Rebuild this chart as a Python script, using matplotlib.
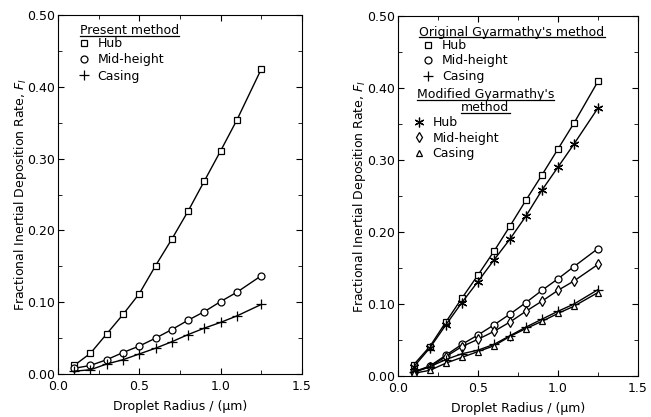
import numpy as np
import matplotlib
matplotlib.use('Agg')
import matplotlib.pyplot as plt
from matplotlib.lines import Line2D
from matplotlib.ticker import MultipleLocator

# droplet radius (um)
radius = [0.1, 0.2, 0.3, 0.4, 0.5, 0.6, 0.7, 0.8, 0.9, 1.0, 1.1, 1.25]

# present method
present_hub = [0.012, 0.029, 0.056, 0.083, 0.112, 0.151, 0.188, 0.227, 0.269, 0.311, 0.354, 0.425]
present_mid = [0.008, 0.012, 0.020, 0.030, 0.039, 0.050, 0.062, 0.075, 0.087, 0.101, 0.114, 0.137]
present_cas = [0.004, 0.006, 0.014, 0.020, 0.028, 0.036, 0.045, 0.055, 0.064, 0.072, 0.081, 0.097]

# original Gyarmathy's method
orig_hub = [0.016, 0.041, 0.075, 0.108, 0.140, 0.173, 0.208, 0.244, 0.279, 0.315, 0.351, 0.409]
orig_mid = [0.006, 0.014, 0.029, 0.044, 0.057, 0.071, 0.086, 0.102, 0.119, 0.135, 0.152, 0.177]
orig_cas = [0.006, 0.013, 0.023, 0.031, 0.036, 0.044, 0.056, 0.068, 0.079, 0.090, 0.100, 0.120]

# modified Gyarmathy's method
mod_hub = [0.013, 0.039, 0.071, 0.102, 0.131, 0.161, 0.190, 0.222, 0.258, 0.290, 0.322, 0.372]
mod_mid = [0.005, 0.013, 0.027, 0.041, 0.051, 0.062, 0.075, 0.090, 0.104, 0.119, 0.132, 0.155]
mod_cas = [0.004, 0.008, 0.018, 0.026, 0.034, 0.042, 0.055, 0.066, 0.076, 0.087, 0.097, 0.116]

x_ticks = [0.0, 0.5, 1.0, 1.5]
x_tick_labels = ['0.0', '0.5', '1.0', '1.5']
y_ticks = [0.0, 0.1, 0.2, 0.3, 0.4, 0.5]
y_tick_labels = ['0.00', '0.10', '0.20', '0.30', '0.40', '0.50']

FS = 9
plt.rcParams['font.family'] = ['DejaVu Sans']

fig = plt.figure(figsize=(6.51, 4.17), dpi=100)
ax1 = fig.add_axes([0.089, 0.103, 0.375, 0.861])
ax2 = fig.add_axes([0.611, 0.098, 0.369, 0.864])

def style(ax):
    ax.set_xticks(x_ticks)
    ax.set_xticklabels(x_tick_labels)
    ax.set_yticks(y_ticks)
    ax.set_yticklabels(y_tick_labels)
    ax.xaxis.set_minor_locator(MultipleLocator(0.25))
    ax.yaxis.set_minor_locator(MultipleLocator(0.05))
    ax.set_xlim(0, 1.5)
    ax.set_ylim(0, 0.5)
    ax.tick_params(which='both', direction='in', top=True, right=True, labelsize=FS)
    ax.tick_params(which='major', length=4)
    ax.tick_params(which='minor', length=3)
    ax.tick_params(axis='x', which='major', pad=4)
    ax.tick_params(axis='y', which='major', pad=2)
    ax.set_xlabel('Droplet Radius / (μm)', fontsize=FS, labelpad=5)
    ax.set_ylabel('Fractional Inertial Deposition Rate, $F_I$', fontsize=FS, labelpad=-1)

def series(ax, y, marker, ms=5):
    ax.plot(radius, y, color='k', lw=1, marker=marker, ms=ms,
            mfc='white', mec='k', mew=0.9)

def handle(marker, ms=5):
    return Line2D([], [], ls='none', marker=marker, ms=ms, mfc='white', mec='k', mew=0.9, color='k')

for ax in (ax1, ax2):
    style(ax)

series(ax1, present_hub, 's')
series(ax1, present_mid, 'o')
series(ax1, present_cas, '+', 7)

series(ax2, orig_hub, 's')
series(ax2, mod_hub, (6, 2, 0), 7)
series(ax2, orig_mid, 'o')
series(ax2, mod_mid, 'd')
series(ax2, orig_cas, '+', 7)
series(ax2, mod_cas, '^')

headers = []
headers.append((ax1, ax1.text(0.09, 0.958, 'Present method', transform=ax1.transAxes,
                              fontsize=FS, va='center', ha='left')))
leg1 = ax1.legend([handle('s'), handle('o'), handle('+', 7)], ['Hub', 'Mid-height', 'Casing'],
                  loc='upper left', bbox_to_anchor=(0.07, 0.945), frameon=False, fontsize=FS,
                  handlelength=1.0, handletextpad=0.6, labelspacing=0.25, borderaxespad=0,
                  borderpad=0.2)

headers.append((ax2, ax2.text(0.09, 0.955, "Original Gyarmathy's method", transform=ax2.transAxes,
                              fontsize=FS, va='center', ha='left')))
leg2 = ax2.legend([handle('s'), handle('o'), handle('+', 7)], ['Hub', 'Mid-height', 'Casing'],
                  loc='upper left', bbox_to_anchor=(0.09, 0.943), frameon=False, fontsize=FS,
                  handlelength=1.0, handletextpad=0.6, labelspacing=0.2, borderaxespad=0,
                  borderpad=0.2)
ax2.add_artist(leg2)
headers.append((ax2, ax2.text(0.08, 0.782, "Modified Gyarmathy's", transform=ax2.transAxes,
                              fontsize=FS, va='center', ha='left')))
headers.append((ax2, ax2.text(0.365, 0.745, 'method', transform=ax2.transAxes,
                              fontsize=FS, va='center', ha='center')))
leg3 = ax2.legend([handle((6, 2, 0), 7), handle('d'), handle('^')], ['Hub', 'Mid-height', 'Casing'],
                  loc='upper left', bbox_to_anchor=(0.05, 0.728), frameon=False, fontsize=FS,
                  handlelength=1.0, handletextpad=0.6, labelspacing=0.2, borderaxespad=0,
                  borderpad=0.2)

# underline the group headers
fig.canvas.draw()
for ax, t in headers:
    bb = t.get_window_extent().transformed(ax.transAxes.inverted())
    ax.plot([bb.x0, bb.x1], [bb.y0 + 0.003] * 2, color='k', lw=0.9,
            transform=ax.transAxes, clip_on=False)

fig.savefig('out.png', dpi=100)
